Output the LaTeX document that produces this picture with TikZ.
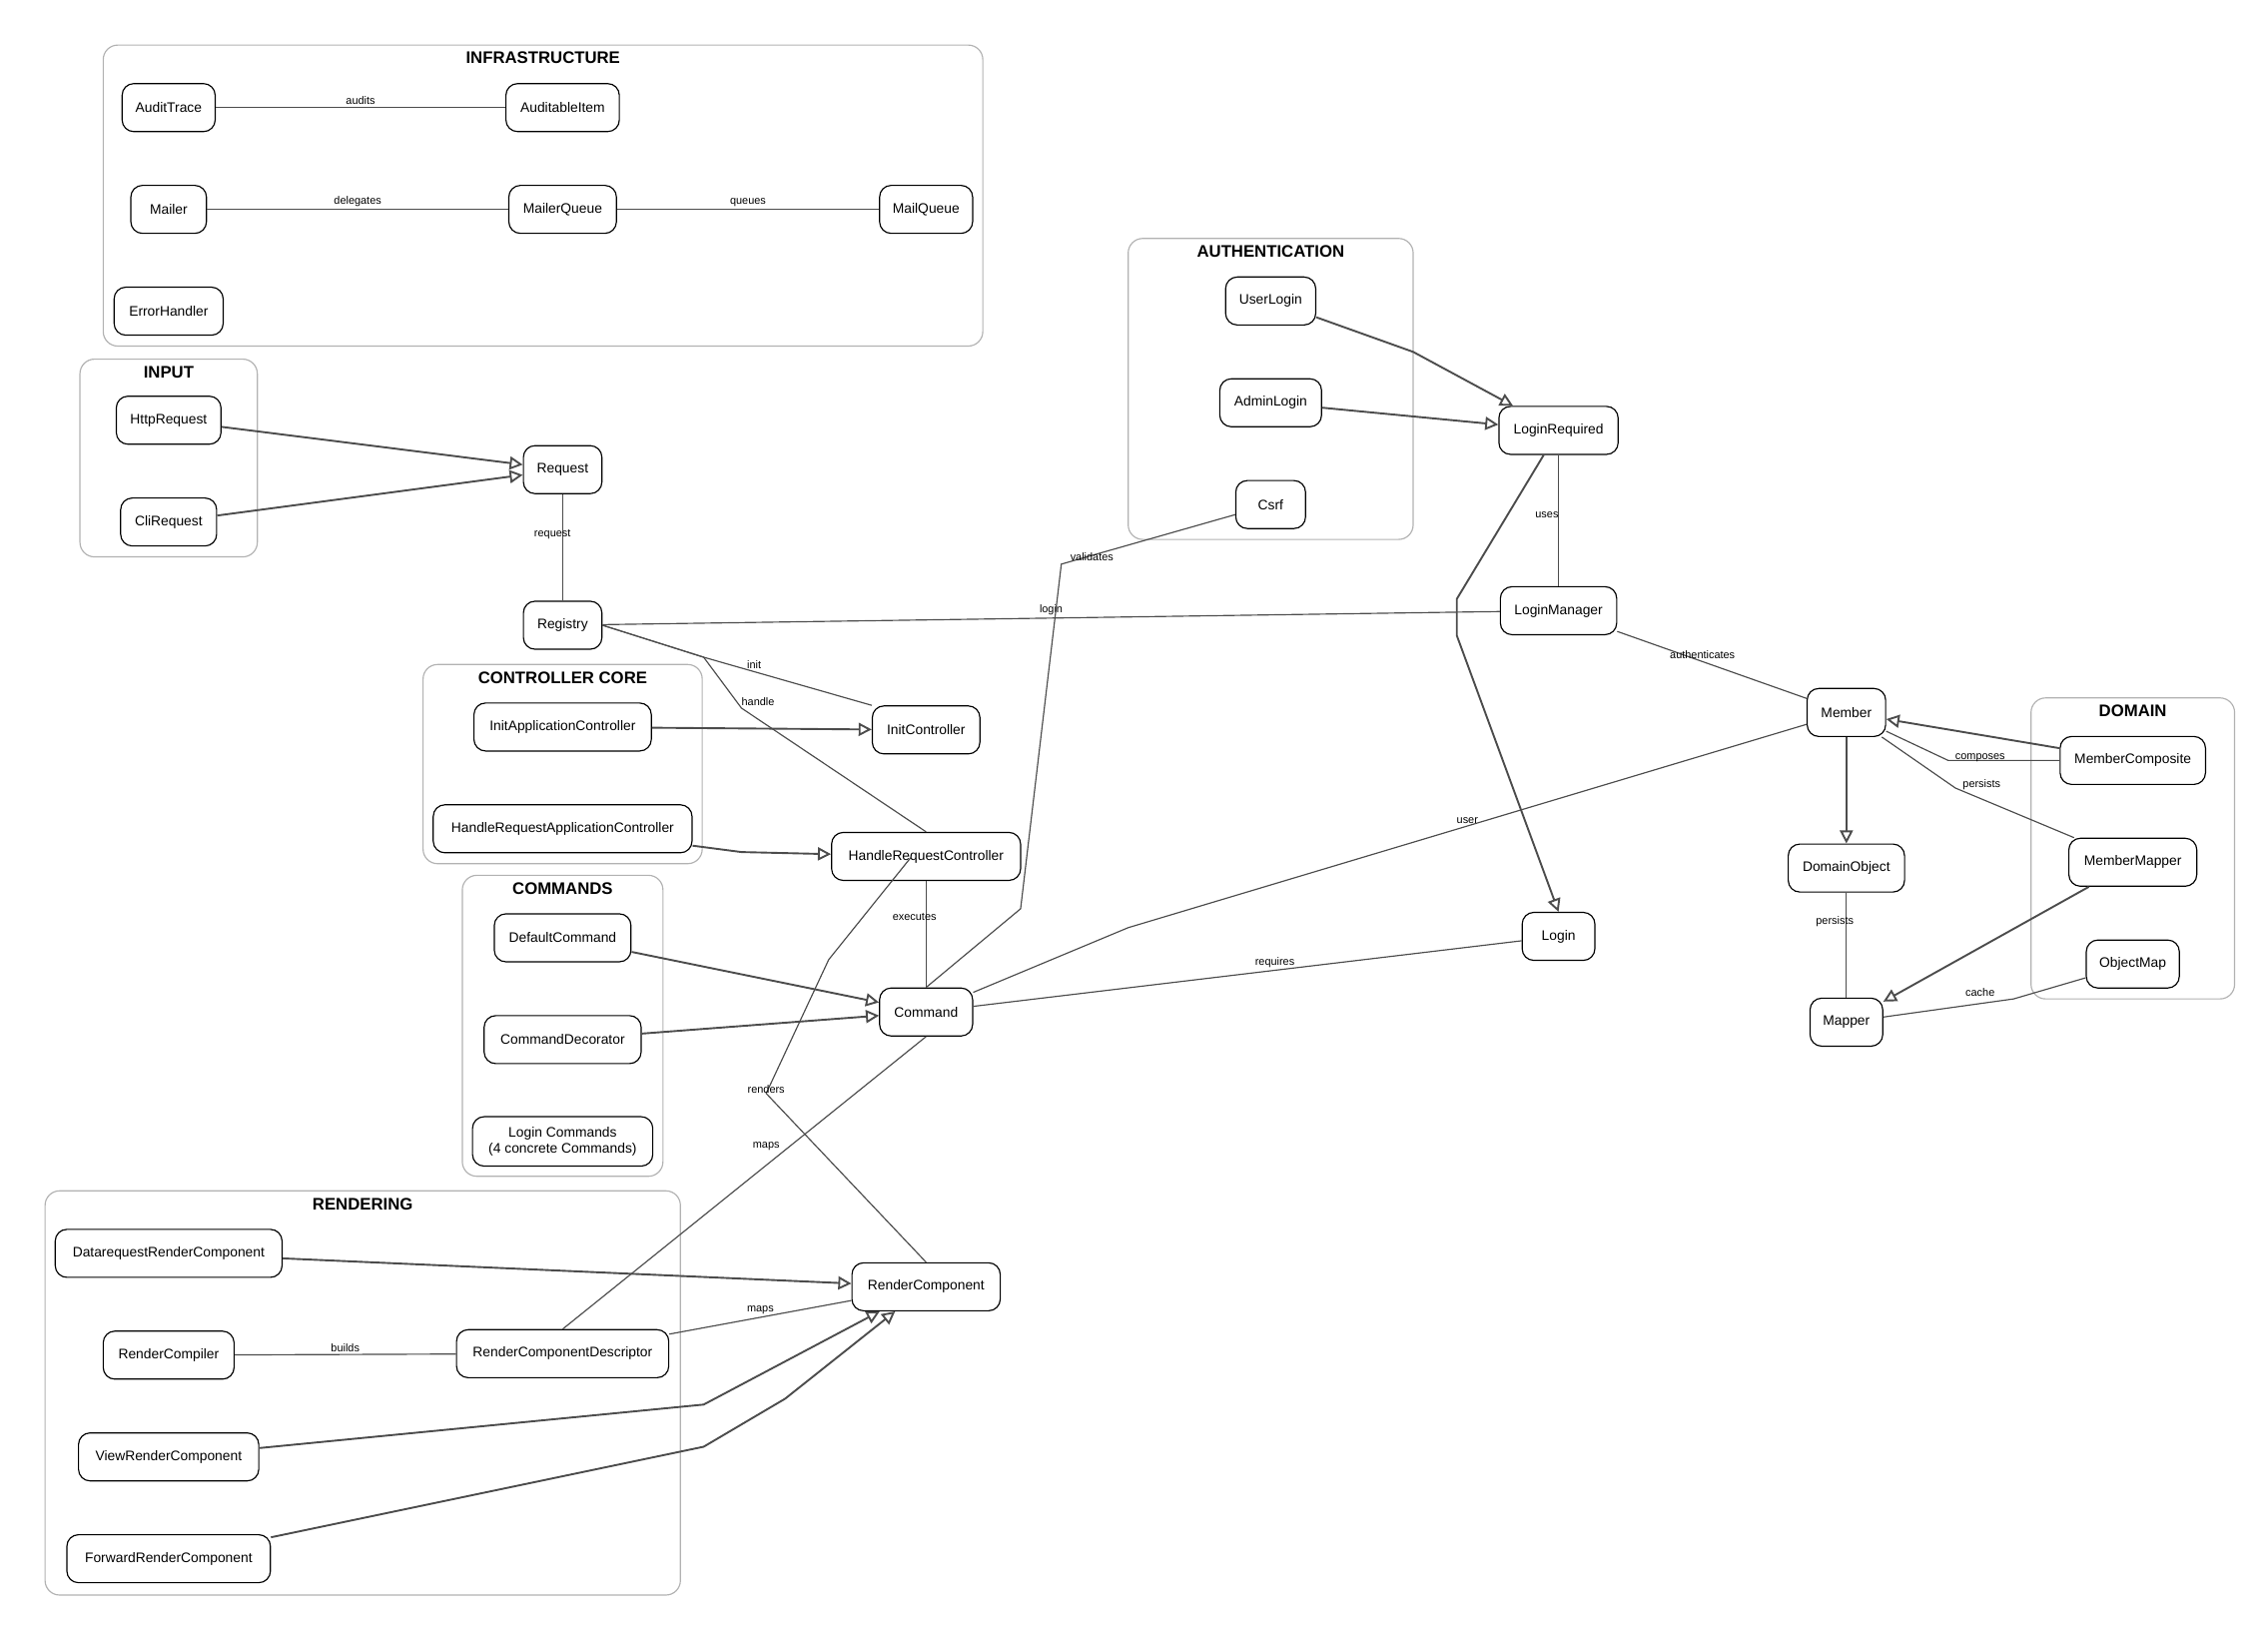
\documentclass[tikz,border=0pt]{standalone}
\usepackage{fontspec}
\setmainfont{Liberation Sans}
\usetikzlibrary{arrows.meta}

\tikzset{
  box/.style={draw, thick, rounded corners=8pt, minimum height=33pt, align=center, inner sep=2pt,
    font=\fontsize{9.5}{11}\selectfont, fill=white},
  frame/.style={draw=black!30, thick, rounded corners=10pt},
  ttl/.style={font=\fontsize{11.5}{13}\selectfont\bfseries},
  lbl/.style={font=\fontsize{7.5}{9}\selectfont, above, inner sep=1.5pt},
  link/.style={draw=black!70, line width=0.8pt},
  isa/.style={draw=black!70, line width=1.3pt, -{Triangle[open,length=9pt,width=9pt]}}
}

\begin{document}
\begin{tikzpicture}[x=1pt,y=-1pt]
        \useasboundingbox (0,0) rectangle (1560,1122);

        % groups
        \foreach \xa/\ya/\xb/\yb/\t in {71/31/676/238/INFRASTRUCTURE, 55/247/177/383/INPUT / REQUEST,
            291/457/483/594/CONTROLLER CORE, 318/602/456/809/COMMANDS, 31/819/468/1097/RENDERING,
            776/164/972/371/AUTHENTICATION / SECURITY, 1397/480/1537/687/DOMAIN / DATABASE} {
            \draw[frame] (\xa,\ya) rectangle (\xb,\yb);
            \node[ttl] at ({(\xa+\xb)/2},\ya+9) {\t};
        }

        % classes
        \foreach \n/\x/\y/\w in {AuditTrace/116/74/64, AuditableItem/387/74/78, Mailer/116/144/52,
            MailerQueue/387/144/74, MailQueue/637/144/64, ErrorHandler/116/214/75,
            HttpRequest/116/289/72, CliRequest/116/359/66, Request/387/323/54, Registry/387/430/54,
            InitApplicationController/387/500/122, HandleRequestApplicationController/387/570/178,
            InitController/637/502/74, HandleRequestController/637/589/130,
            DefaultCommand/387/645/94, CommandDecorator/387/715/108, Command/637/696/64,
            DatarequestRenderComponent/116/862/156, RenderCompiler/116/932/90,
            RenderComponentDescriptor/387/931/146, ViewRenderComponent/116/1002/124,
            ForwardRenderComponent/116/1072/140, RenderComponent/637/885/102,
            UserLogin/874/207/62, AdminLogin/874/277/70, Csrf/874/347/48,
            LoginRequired/1072/296/82, LoginManager/1072/420/80, Login/1072/644/50,
            Member/1270/490/54, DomainObject/1270/597/80, Mapper/1270/703/50,
            MemberComposite/1467/523/100, MemberMapper/1467/593/88, ObjectMap/1467/663/64} {
            \node[box, minimum width=\w pt] (\n) at (\x,\y) {\n};
        }
        \node[box, minimum width=124pt, minimum height=34pt] (LoginCommands) at (387,785)
            {Login Commands\\(4 concrete Commands)};

        % plain associations
        \draw[link] (AuditTrace) -- node[lbl] {audits} (AuditableItem);
        \draw[link] (Mailer) -- node[lbl] {delegates} (MailerQueue);
        \draw[link] (MailerQueue) -- node[lbl] {queues} (MailQueue);
        \draw[link] (Request) -- node[lbl, pos=0.45, xshift=-7pt] {request} (Registry);
        \draw[link] (Registry) -- node[lbl] {login} (LoginManager);
        \draw[link] (Registry.east) -- (484,452) -- node[lbl, pos=0.3] {init} (InitController.north west);
        \draw[link] (Registry.east) -- (484,452) -- (510,487) node[lbl, pos=0.9, xshift=14pt, yshift=-4pt] {handle} -- (HandleRequestController.north);
        \draw[link] (HandleRequestController) -- node[lbl, pos=0.4, xshift=-8pt] {executes} (Command);
        \draw[link] (HandleRequestController.north) ++(-10,17) -- (570,660) -- (527,752)
            node[lbl, pos=1, yshift=-2pt] {renders} -- (RenderComponent.north);
        \draw[link] (Command.south) -- node[lbl, pos=0.4, xshift=-10pt] {maps} (RenderComponentDescriptor.north);
        \draw[link] (RenderComponentDescriptor) -- node[lbl] {maps} (RenderComponent);
        \draw[link] (RenderCompiler) -- node[lbl] {builds} (RenderComponentDescriptor);
        \draw[link] (Csrf) -- (730,388) node[lbl, pos=1, xshift=21pt] {validates} -- (702,625) -- (Command.north);
        \draw[link] (LoginRequired) -- node[lbl, pos=0.5, xshift=-8pt] {uses} (LoginManager);
        \draw[link] (LoginManager) -- node[lbl, pos=0.45] {authenticates} (Member);
        \draw[link] (Command) -- (776,638) -- node[lbl, pos=0.5] {user} (Member);
        \draw[link] (Command) -- node[lbl, pos=0.55] {requires} (Login);
        \draw[link] (MemberComposite) -- (1340,523) node[lbl, pos=1, xshift=22pt, yshift=-3pt] {composes} -- (Member);
        \draw[link] (MemberMapper) -- (1345,542) node[lbl, pos=1, xshift=18pt, yshift=-3pt] {persists} -- (Member);
        \draw[link] (DomainObject) -- node[lbl, pos=0.35, xshift=-8pt] {persists} (Mapper);
        \draw[link] (ObjectMap) -- (1385,687) node[lbl, pos=1, xshift=-23pt] {cache} -- (Mapper);

        % inheritance
        \draw[isa] (HttpRequest) -- (Request);
        \draw[isa] (CliRequest) -- (Request);
        \draw[isa] (InitApplicationController) -- (InitController);
        \draw[isa] (HandleRequestApplicationController) -- (510,586) -- (HandleRequestController);
        \draw[isa] (DefaultCommand) -- (Command);
        \draw[isa] (CommandDecorator) -- (Command);
        \draw[isa] (DatarequestRenderComponent) -- (RenderComponent);
        \draw[isa] (ViewRenderComponent) -- (484,966) -- (RenderComponent);
        \draw[isa] (ForwardRenderComponent) -- (484,995) -- (540,962) -- (RenderComponent);
        \draw[isa] (UserLogin) -- (972,242) -- (LoginRequired);
        \draw[isa] (AdminLogin) -- (LoginRequired);
        \draw[isa] (LoginRequired) -- (1002,412) -- (1002,437) -- (Login.north);
        \draw[isa] (Member) -- (DomainObject);
        \draw[isa] (MemberComposite) -- (Member);
        \draw[isa] (MemberMapper) -- (Mapper);

\end{tikzpicture}
\end{document}
